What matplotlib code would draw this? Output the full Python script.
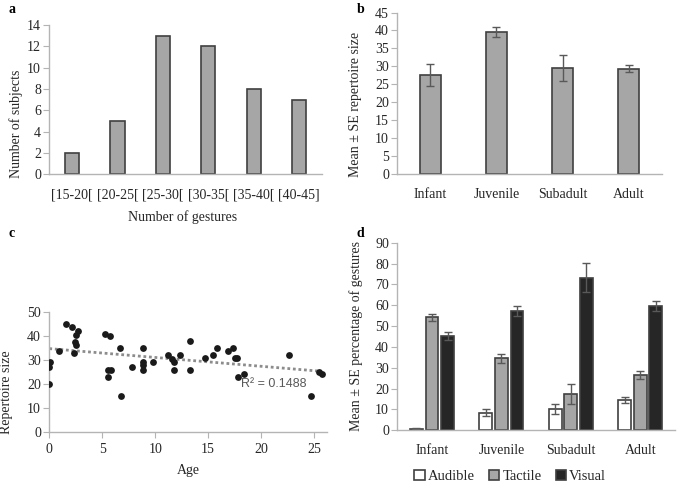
import numpy as np
import matplotlib.pyplot as plt

plt.rcParams['font.family'] = ['Liberation Serif', 'DejaVu Serif']

# panel a - histogram of repertoire sizes
gesture_bins = ['[15-20[', '[20-25[', '[25-30[', '[30-35[', '[35-40[', '[40-45]']
n_subjects = [2, 5, 13, 12, 8, 7]

# panel b - repertoire size per age class
age_classes = ['Infant', 'Juvenile', 'Subadult', 'Adult']
rep_mean = [27.6, 39.7, 29.5, 29.3]
rep_se = [3.0, 1.4, 3.6, 0.95]

# panel c - repertoire size vs age
ages = [0.0, 0.0, 0.06, 0.92, 1.6, 2.12, 2.7, 2.55, 2.38, 2.5, 2.32,
        5.23, 5.73, 6.67, 5.51, 5.58, 5.83, 6.8, 7.78,
        8.85, 8.85, 8.85, 8.85, 9.76, 11.18, 11.6, 11.8, 11.8, 12.3,
        13.3, 13.3, 14.7, 15.5, 15.8, 16.9, 17.3, 17.5, 17.7, 17.8,
        18.4, 22.6, 24.7, 25.5, 25.75]
rep_size = [20, 27, 29, 34, 45, 44, 42.3, 40.3, 37.7, 36.2, 33.1,
            41, 40, 35, 23, 26, 26, 15, 27,
            35, 29, 28, 26, 29, 32, 30.3, 29.3, 25.8, 32,
            38, 26, 31, 32, 35, 34, 35, 31, 31, 23,
            24, 32, 15, 25, 24.2]
# linear trend as printed in the figure (Excel fit)
trend_intercept = 34.8
trend_slope = -0.37
r2_text = 'R² = 0.1488'

# panel d - modality percentages per age class
modalities = ['Audible', 'Tactile', 'Visual']
mod_mean = {'Audible': [0.8, 8.5, 10.1, 14.7],
            'Tactile': [54.3, 34.5, 17.3, 26.5],
            'Visual': [45.2, 57.2, 73.2, 59.6]}
mod_se = {'Audible': [0.3, 1.6, 2.4, 1.4],
          'Tactile': [1.7, 2.0, 4.8, 2.0],
          'Visual': [2.0, 2.4, 7.0, 2.3]}
mod_colors = {'Audible': 'white', 'Tactile': '#a6a6a6', 'Visual': '#262626'}

spine_col = '#b4b4b4'
text_col = '#262626'
bar_edge = '#404040'
err_col = '#595959'


def excel_axes(ax, xticks=False):
    for s in ['top', 'right']:
        ax.spines[s].set_visible(False)
    for s in ['left', 'bottom']:
        ax.spines[s].set_color(spine_col)
        ax.spines[s].set_linewidth(1.0)
    ax.tick_params(axis='y', direction='out', length=4, color=spine_col,
                   labelsize=10, labelcolor=text_col, pad=2)
    ax.tick_params(axis='x', direction='out', length=4 if xticks else 0,
                   color=spine_col, labelsize=10, labelcolor=text_col, pad=10)


fig = plt.figure(figsize=(6.85, 4.82), dpi=100)

# a
ax_a = fig.add_axes([0.072, 0.638, 0.398, 0.310])
xa = np.arange(len(gesture_bins))
ax_a.bar(xa, n_subjects, width=0.31, color='#a6a6a6', edgecolor=bar_edge, linewidth=1.2)
ax_a.set_xlim(-0.5, len(gesture_bins) - 0.5)
ax_a.set_ylim(0, 14)
ax_a.set_yticks(range(0, 15, 2))
ax_a.set_xticks(xa)
ax_a.set_xticklabels(gesture_bins)
excel_axes(ax_a)
ax_a.set_ylabel('Number of subjects', fontsize=10, color=text_col)
ax_a.yaxis.set_label_coords(-0.095, 0.34)
ax_a.set_xlabel('Number of gestures', fontsize=10, color=text_col)
ax_a.xaxis.set_label_coords(0.49, -0.24)

# b
ax_b = fig.add_axes([0.580, 0.639, 0.386, 0.335])
xb = np.arange(len(age_classes))
ax_b.bar(xb, rep_mean, width=0.32, color='#a6a6a6', edgecolor=bar_edge, linewidth=1.2)
ax_b.errorbar(xb, rep_mean, yerr=rep_se, fmt='none', ecolor=err_col,
              elinewidth=1, capsize=3, capthick=1)
ax_b.set_xlim(-0.5, len(age_classes) - 0.5)
ax_b.set_ylim(0, 45)
ax_b.set_yticks(range(0, 46, 5))
ax_b.set_xticks(xb)
ax_b.set_xticklabels(age_classes)
excel_axes(ax_b)
ax_b.set_ylabel('Mean ± SE repertoire size', fontsize=10, color=text_col)
ax_b.yaxis.set_label_coords(-0.135, 0.43)

# c
ax_c = fig.add_axes([0.072, 0.1044, 0.405, 0.2476])
ax_c.scatter(ages, rep_size, s=24, color='#1a1a1a', linewidths=0, zorder=3)
xs = np.array([0, max(ages)])
ax_c.plot(xs, trend_intercept + trend_slope * xs, color='#8c8c8c', lw=2,
          ls=(0, (1, 1)), zorder=2)
ax_c.text(18.1, 20, r2_text, fontsize=9, color='#595959', va='center', ha='left',
          family=['Liberation Sans', 'DejaVu Sans'])
ax_c.set_xlim(0, 26.2)
ax_c.set_ylim(0, 50)
ax_c.set_xticks(range(0, 26, 5))
ax_c.set_yticks(range(0, 51, 10))
excel_axes(ax_c, xticks=True)
ax_c.tick_params(axis='x', pad=4)
ax_c.set_ylabel('Repertoire size', fontsize=10, color=text_col)
ax_c.yaxis.set_label_coords(-0.13, 0.33)
ax_c.set_xlabel('Age', fontsize=10, color=text_col)
ax_c.xaxis.set_label_coords(0.5, -0.27)

# d
ax_d = fig.add_axes([0.580, 0.1073, 0.4054, 0.3892])
xd = np.arange(len(age_classes))
offsets = [-0.225, 0.0, 0.225]
for m, off in zip(modalities, offsets):
    ax_d.bar(xd + off, mod_mean[m], width=0.185, color=mod_colors[m],
             edgecolor=bar_edge, linewidth=1.2, label=m)
    ax_d.errorbar(xd + off, mod_mean[m], yerr=mod_se[m], fmt='none', ecolor=err_col,
                  elinewidth=1, capsize=3, capthick=1)
ax_d.set_xlim(-0.5, len(age_classes) - 0.5)
ax_d.set_ylim(0, 90)
ax_d.set_yticks(range(0, 91, 10))
ax_d.set_xticks(xd)
ax_d.set_xticklabels(age_classes)
excel_axes(ax_d)
ax_d.set_ylabel('Mean ± SE percentage of gestures', fontsize=10, color=text_col)
ax_d.yaxis.set_label_coords(-0.122, 0.5)
fig.legend(*ax_d.get_legend_handles_labels(), loc='center', bbox_to_anchor=(0.745, 0.012),
           ncol=3, frameon=False, fontsize=10.5, handlelength=0.7, handleheight=0.7,
           handletextpad=0.2, columnspacing=1.0, labelcolor=text_col)

# panel letters
for lab, x, y in [('a', 0.012, 0.994), ('b', 0.521, 0.994), ('c', 0.012, 0.529), ('d', 0.521, 0.529)]:
    fig.text(x, y, lab, fontsize=10, fontweight='bold', va='top', ha='left')

fig.savefig('out.png', dpi=100)
